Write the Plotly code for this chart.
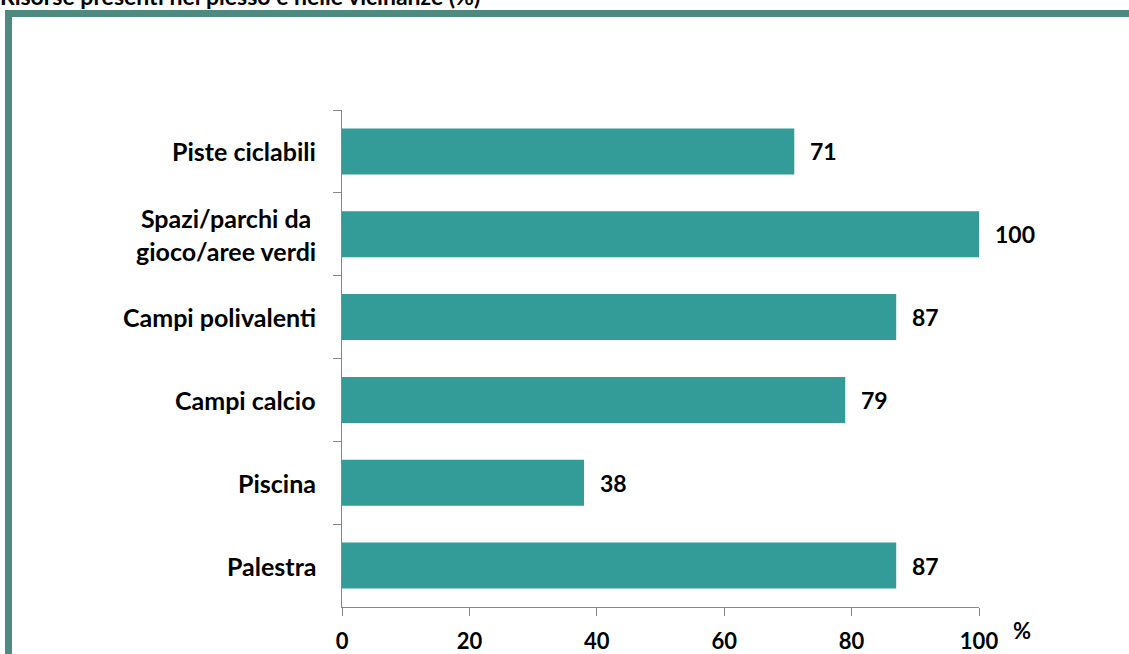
import plotly.graph_objects as go

# Resources available at the school and nearby (%)
categories = [
    "Piste ciclabili",
    "Spazi/parchi da<br>gioco/aree verdi",
    "Campi polivalenti",
    "Campi calcio",
    "Piscina",
    "Palestra",
]
values = [71, 100, 87, 79, 38, 87]
x_ticks = [0, 20, 40, 60, 80, 100]
title_text = "Risorse presenti nel plesso e nelle vicinanze (%)"

W, H = 1129, 654
L, R, T, B = 342, 150, 110, 47
PW, PH = W - L - R, H - T - B

BAR = "#339B98"
AXIS = "#868686"
FRAME = "#4E8A80"
FONT = "Lato"


def px_x(p):
    return (p - L) / PW


def px_y(p):
    return (H - B - p) / PH


fig = go.Figure(
    go.Bar(
        x=values,
        y=categories,
        orientation="h",
        marker=dict(color=BAR, line=dict(width=0)),
        hoverinfo="skip",
    )
)

annotations = []
# value labels beside each bar
for c, v in zip(categories, values):
    annotations.append(dict(
        x=v, y=c, xref="x", yref="y", text=f"<b>{v}</b>", showarrow=False,
        xanchor="left", yanchor="middle", xshift=14,
        font=dict(family=FONT, size=23, color="#000000"),
    ))
# category labels, right-aligned against the axis, multi-line centred
for c in categories:
    annotations.append(dict(
        x=0, y=c, xref="x", yref="y", text=f"<b>{c}</b>", showarrow=False,
        xanchor="right", yanchor="middle", xshift=-24, align="center",
        font=dict(family=FONT, size=25, color="#000000"),
    ))
# unit label
annotations.append(dict(
    x=px_x(1022), y=px_y(630), xref="paper", yref="paper", text="<b>%</b>",
    showarrow=False, xanchor="center", yanchor="middle",
    font=dict(family=FONT, size=22, color="#000000"),
))
# title (top edge)
annotations.append(dict(
    x=px_x(-2), y=px_y(-4), xref="paper", yref="paper", text=f"<b>{title_text}</b>",
    showarrow=False, xanchor="left", yanchor="middle",
    font=dict(family=FONT, size=23, color="#000000"),
))

fig.update_layout(
    width=W, height=H,
    margin=dict(l=L, r=R, t=T, b=B, pad=0),
    paper_bgcolor="#FFFFFF", plot_bgcolor="#FFFFFF",
    bargap=0.444,
    showlegend=False,
    annotations=annotations,
    shapes=[dict(
        type="rect", xref="paper", yref="paper",
        x0=px_x(8.5), x1=px_x(1200), y0=px_y(720), y1=px_y(13.5),
        line=dict(color=FRAME, width=7), fillcolor="rgba(0,0,0,0)", layer="below",
    )],
    xaxis=dict(
        range=[0, 100], tickvals=x_ticks, ticktext=[f"<b>{t}</b>" for t in x_ticks],
        showgrid=False, zeroline=False, showline=True, linecolor=AXIS, linewidth=1,
        ticks="outside", ticklen=8, tickcolor=AXIS, tickwidth=1,
        tickfont=dict(family=FONT, size=22, color="#000000"),
        ticklabelstandoff=7, automargin=False,
    ),
    yaxis=dict(
        categoryorder="array", categoryarray=categories, autorange="reversed",
        showgrid=False, zeroline=False, showline=True, linecolor=AXIS, linewidth=1,
        ticks="outside", ticklen=8, tickcolor=AXIS, tickwidth=1, tickson="boundaries",
        showticklabels=False, automargin=False,
    ),
)

fig.write_html("out.html")
